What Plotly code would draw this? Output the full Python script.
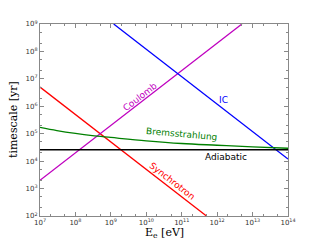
import plotly.graph_objects as go

# Data
sync_E = [1e7, 5e11]
sync_t = [5e6, 1e2]
coul_E = [1e7, 5e12]
coul_t = [2e3, 1e9]
ic_E = [1.2e9, 1e14]
ic_t = [1e9, 1.2e4]
adia_E = [1e7, 1e14]
adia_t = [2.6e4, 2.6e4]
brem_E = [1e7, 3e7, 1e8, 3e8, 1e9, 1e10, 1e11, 1e12, 1e13, 1e14]
brem_t = [1.7e5, 1.3e5, 1.02e5, 8.5e4, 7.3e4, 5.5e4, 4.4e4, 3.8e4, 3.3e4, 2.95e4]

x_tickvals = [1e7, 1e8, 1e9, 1e10, 1e11, 1e12, 1e13, 1e14]
x_ticktext = ["10<sup>%d</sup>" % e for e in range(7, 15)]
y_tickvals = [1e2, 1e3, 1e4, 1e5, 1e6, 1e7, 1e8, 1e9]
y_ticktext = ["10<sup>%d</sup>" % e for e in range(2, 10)]

# label positions given as log10 values (annotation coords on log axes)
labels = [
    ("Coulomb", 9.82, 6.34, "#bf00bf", -38),
    ("IC", 12.17, 6.23, "#0000ff", 0),
    ("Bremsstrahlung", 10.98, 4.99, "#008000", 5),
    ("Adiabatic", 12.26, 4.15, "#000000", 0),
    ("Synchrotron", 10.73, 3.28, "#ff0000", 38),
]

fig = go.Figure()
lw = 1.3
fig.add_trace(go.Scatter(x=sync_E, y=sync_t, mode="lines", line=dict(color="#ff0000", width=lw)))
fig.add_trace(go.Scatter(x=coul_E, y=coul_t, mode="lines", line=dict(color="#bf00bf", width=lw)))
fig.add_trace(go.Scatter(x=ic_E, y=ic_t, mode="lines", line=dict(color="#0000ff", width=lw)))
fig.add_trace(go.Scatter(x=brem_E, y=brem_t, mode="lines", line=dict(color="#008000", width=lw, shape="spline")))
fig.add_trace(go.Scatter(x=adia_E, y=adia_t, mode="lines", line=dict(color="#000000", width=lw)))

for txt, x, y, c, ang in labels:
    fig.add_annotation(x=x, y=y, xref="x", yref="y", text=txt, showarrow=False,
                       textangle=ang, font=dict(family="DejaVu Sans", size=9, color=c))

# axis titles
fig.add_annotation(x=0.5, y=0, xref="paper", yref="paper", yshift=-17, yanchor="middle",
                   text="E<sub>e</sub> [eV]", showarrow=False,
                   font=dict(family="DejaVu Serif", size=11, color="#000000"))
fig.add_annotation(x=0, y=0.5, xref="paper", yref="paper", xshift=-27, xanchor="center",
                   text="timescale [yr]", showarrow=False, textangle=-90,
                   font=dict(family="DejaVu Serif", size=11, color="#000000"))

axis_common = dict(
    type="log", showgrid=False, zeroline=False, showline=True, linecolor="#888888",
    linewidth=1, mirror="ticks", ticks="inside", ticklen=4, tickcolor="#888888",
    tickfont=dict(family="DejaVu Sans", size=7, color="#333333"), automargin=False,
    minor=dict(ticks="inside", ticklen=2, tickcolor="#888888", showgrid=False),
)
fig.update_xaxes(**axis_common, range=[7, 14], tickvals=x_tickvals, ticktext=x_ticktext)
fig.update_yaxes(**axis_common, range=[2, 9], tickvals=y_tickvals, ticktext=y_ticktext)

fig.update_layout(width=320, height=240, margin=dict(l=32, r=40, t=16, b=32),
                  plot_bgcolor="white", paper_bgcolor="white", showlegend=False)
fig.write_html("out.html")
